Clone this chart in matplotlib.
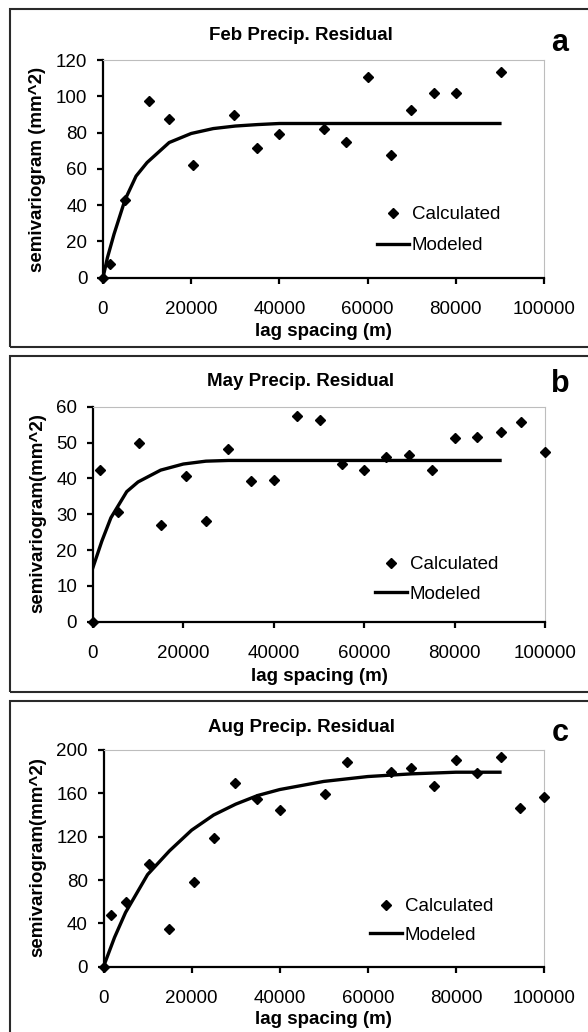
import matplotlib
matplotlib.use('Agg')
import matplotlib.pyplot as plt
from matplotlib.patches import Rectangle

plt.rcParams['font.family'] = ['Liberation Sans', 'DejaVu Sans']

# ---------------- data ----------------
x_ticks = [0, 20000, 40000, 60000, 80000, 100000]
x_tick_labels = ['0', '20000', '40000', '60000', '80000', '100000']

# Panel a: February
feb_lag = [0, 1600, 5100, 10400, 15000, 20500, 29800, 34900, 40000, 50200, 55200, 60100, 65200, 69800, 75100, 80000, 90300]
feb_calc = [0, 7.4, 43.0, 97.4, 87.5, 62.0, 89.5, 71.3, 79.3, 82.0, 74.7, 110.6, 67.8, 92.2, 101.9, 101.9, 113.4]
feb_model_lag = [0, 1000, 2500, 5000, 7500, 10000, 15000, 20000, 25000, 30000, 35000, 40000, 50000, 60000, 70000, 80000, 90000]
feb_model = [0, 11, 24, 43, 56, 63.5, 74.5, 79.5, 82.2, 83.6, 84.4, 85, 85, 85, 85, 85, 85]
feb_yticks = [0, 20, 40, 60, 80, 100, 120]

# Panel b: May
may_lag = [0, 1700, 5500, 10200, 15100, 20500, 25000, 29800, 34900, 40000, 45200, 50300, 55100, 59900, 64900, 69800, 75000, 80100, 84900, 90100, 94700, 100000]
may_calc = [0, 42.2, 30.7, 50.0, 27.1, 40.6, 28.2, 48.3, 39.3, 39.5, 57.3, 56.4, 43.9, 42.2, 46.0, 46.4, 42.2, 51.3, 51.6, 52.9, 55.6, 47.3]
may_model_lag = [0, 2000, 4000, 7500, 10000, 15000, 20000, 25000, 30000, 40000, 50000, 60000, 70000, 80000, 90000]
may_model = [15, 22.5, 29, 36.3, 39, 42.3, 44, 44.8, 45, 45, 45, 45, 45, 45, 45]
may_yticks = [0, 10, 20, 30, 40, 50, 60]

# Panel c: August
aug_lag = [0, 1600, 5100, 10300, 14900, 20500, 25100, 29800, 34900, 40100, 50200, 55200, 65200, 69800, 75000, 80100, 84800, 90300, 94600, 100000]
aug_calc = [0, 47.4, 59.7, 94.8, 35.1, 78.2, 119.1, 169.8, 154.5, 144.6, 159.1, 188.9, 179.4, 183.7, 166.5, 190.8, 178.8, 193.2, 146.8, 156.9]
aug_model_lag = [0, 2500, 5000, 10000, 15000, 20000, 25000, 30000, 35000, 40000, 50000, 60000, 70000, 80000, 90000]
aug_model = [0, 27, 50, 85, 107, 126, 140, 150, 158, 163.5, 171, 175.5, 178, 179.5, 179.5]
aug_yticks = [0, 40, 80, 120, 160, 200]

titles = ['Feb Precip. Residual', 'May Precip. Residual', 'Aug Precip. Residual']
letters = ['a', 'b', 'c']
ylabels = ['semivariogram (mm^2)', 'semivariogram(mm^2)', 'semivariogram(mm^2)']
xlabel = 'lag spacing (m)'
legend_labels = ['Calculated', 'Modeled']

# ---------------- layout (pixels) ----------------
W, H = 588, 1032
fig = plt.figure(figsize=(W / 100, H / 100), dpi=100)


def fx(px):
    return px / W


def fy(py):
    return 1 - py / H


panels = [
    dict(lag=feb_lag, calc=feb_calc, mlag=feb_model_lag, model=feb_model, yticks=feb_yticks,
         ax=(103, 544, 60, 277.7), box=(9.5, 347), title_y=36, letter_y=43,
         xlabel_y=332, ylabel_y=169, leg=(377, 206), legsp=0.76),
    dict(lag=may_lag, calc=may_calc, mlag=may_model_lag, model=may_model, yticks=may_yticks,
         ax=(92.8, 545.3, 406.7, 621.7), box=(355.5, 691.5), title_y=381, letter_y=384,
         xlabel_y=676.7, ylabel_y=513, leg=(375, 556), legsp=0.66),
    dict(lag=aug_lag, calc=aug_calc, mlag=aug_model_lag, model=aug_model, yticks=aug_yticks,
         ax=(103.5, 544, 750, 966.7), box=(700.5, 1045), title_y=728, letter_y=733,
         xlabel_y=1020, ylabel_y=857, leg=(370, 898), legsp=0.60),
]

FS = 13.5

for i, p in enumerate(panels):
    l, r, t, b = p['ax']
    ax = fig.add_axes([fx(l), fy(b), (r - l) / W, (b - t) / H])
    line, = ax.plot(p['mlag'], p['model'], color='black', lw=2.4, zorder=2,
                    solid_joinstyle='round', label=legend_labels[1])
    pts, = ax.plot(p['lag'], p['calc'], ls='none', marker='D', ms=5, color='black',
                   zorder=3, clip_on=False, label=legend_labels[0])
    ax.set_xlim(0, 100000)
    ax.set_ylim(p['yticks'][0], p['yticks'][-1])
    ax.set_xticks(x_ticks)
    ax.set_xticklabels(x_tick_labels)
    ax.set_yticks(p['yticks'])
    ax.set_yticklabels([str(v) for v in p['yticks']])
    for s in ['top', 'right']:
        ax.spines[s].set_color('#bdbdbd')
        ax.spines[s].set_linewidth(0.8)
    for s in ['left', 'bottom']:
        ax.spines[s].set_color('black')
        ax.spines[s].set_linewidth(1.6)
    ax.tick_params(axis='both', direction='out', length=4.3, width=1.6,
                   labelsize=FS, top=False, right=False, colors='black')
    ax.tick_params(axis='x', pad=12.5)
    ax.tick_params(axis='y', pad=7)

    ax.legend([pts, line], legend_labels, loc='upper left',
              bbox_to_anchor=(fx(p['leg'][0]), fy(p['leg'][1])),
              bbox_transform=fig.transFigure, frameon=False, fontsize=FS,
              borderpad=0, borderaxespad=0, handlelength=1.7,
              handletextpad=0.15, labelspacing=p['legsp'], numpoints=1)

    fig.text(fx(301), fy(p['title_y']), titles[i], ha='center', va='center',
             fontsize=FS, weight='bold')
    fig.text(fx(560), fy(p['letter_y']), letters[i], ha='center', va='center',
             fontsize=22, weight='bold')
    fig.text(fx((l + r) / 2), fy(p['xlabel_y']), xlabel, ha='center', va='center',
             fontsize=FS, weight='bold')
    fig.text(fx(37.5), fy(p['ylabel_y']), ylabels[i], ha='center', va='center',
             rotation=90, fontsize=FS, weight='bold')

    bt, bb = p['box']
    fig.add_artist(Rectangle((fx(10.3), fy(bb)), (640 - 10.3) / W, (bb - bt) / H,
                             transform=fig.transFigure, fill=False,
                             ec='#2a2a2a', lw=1.5))

fig.savefig('out.png', dpi=100, facecolor='white')
